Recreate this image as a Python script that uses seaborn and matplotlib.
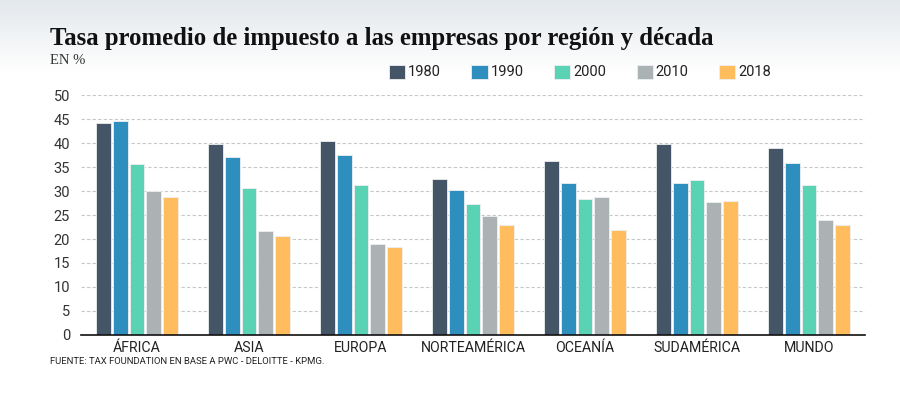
import numpy as np
import pandas as pd
import matplotlib
matplotlib.use('Agg')
import matplotlib.pyplot as plt
import seaborn as sns

# Data
regions = ['ÁFRICA', 'ASIA', 'EUROPA', 'NORTEAMÉRICA', 'OCEANÍA', 'SUDAMÉRICA', 'MUNDO']
years = ['1980', '1990', '2000', '2010', '2018']
rate_1980 = [44.2, 39.8, 40.4, 32.6, 36.2, 39.7, 38.9]
rate_1990 = [44.5, 37.1, 37.4, 30.3, 31.6, 31.6, 35.8]
rate_2000 = [35.6, 30.6, 31.3, 27.2, 28.3, 32.3, 31.3]
rate_2010 = [29.9, 21.7, 18.9, 24.7, 28.8, 27.8, 23.9]
rate_2018 = [28.8, 20.6, 18.3, 22.9, 21.9, 28.0, 22.9]
y_ticks = [0, 5, 10, 15, 20, 25, 30, 35, 40, 45, 50]

colors = ['#435566', '#2e8fbf', '#5ad3b5', '#abb2b4', '#ffbd5e']

series = [rate_1980, rate_1990, rate_2000, rate_2010, rate_2018]
df = pd.DataFrame({
    'region': regions * len(years),
    'year': [y for y in years for _ in regions],
    'value': [v for s in series for v in s],
})

sns.set_style('white')
plt.rcParams['font.family'] = ['Roboto', 'DejaVu Sans']

fig = plt.figure(figsize=(9, 3.98), dpi=100)

# Top gradient background
bg = fig.add_axes([0, 0, 1, 1], zorder=-10)
top_rgb = np.array([0xe3, 0xe8, 0xec]) / 255.0
img = np.ones((100, 1, 3))
for i in range(100):
    t = i / 99.0
    img[i, 0, :] = top_rgb * (1 - t) + np.ones(3) * t
bg.imshow(img, aspect='auto', extent=[0, 1, 1 - 72 / 398, 1])
bg.set_xlim(0, 1)
bg.set_ylim(0, 1)
bg.axis('off')

ax = fig.add_axes([81 / 900, 1 - 335 / 398, (865 - 81) / 900, (335 - 95) / 398])
ax.patch.set_alpha(0)

sns.barplot(data=df, x='region', y='value', hue='year', palette=colors,
            saturation=1, width=0.75, gap=0.12, edgecolor='#eef0f0', linewidth=0.6,
            ax=ax, legend=True)

ax.set_xlim(-0.5, len(regions) - 0.5)
ax.set_ylim(0, 50)
ax.set_yticks(y_ticks)
ax.yaxis.grid(True, color='#c8c8c8', linestyle=(0, (3, 2)), linewidth=0.8)
ax.set_axisbelow(True)
for side in ['top', 'right', 'left']:
    ax.spines[side].set_visible(False)
ax.spines['bottom'].set_color('#111111')
ax.spines['bottom'].set_linewidth(1.2)
ax.tick_params(axis='y', length=0, pad=8, labelsize=10.5, labelcolor='#333333')
ax.tick_params(axis='x', length=0, pad=4, labelsize=10.2, labelcolor='#222222')
ax.set_xlabel('')
ax.set_ylabel('')

handles, labels = ax.get_legend_handles_labels()
leg = ax.legend(handles, labels, ncol=5, loc='center left', frameon=False,
                bbox_to_anchor=(389 / 900, 1 - 72 / 398), bbox_transform=fig.transFigure,
                handlelength=1.1, handleheight=1.1, handletextpad=0.2,
                columnspacing=2.1, fontsize=10.5, borderaxespad=0, borderpad=0)
for t in leg.get_texts():
    t.set_color('#222222')

fig.text(50 / 900, 1 - 38 / 398, 'Tasa promedio de impuesto a las empresas por región y década',
         family=['Liberation Serif', 'DejaVu Serif'], fontweight='bold', fontsize=17.8,
         color='#111111', va='center', ha='left')
fig.text(50 / 900, 1 - 60 / 398, 'EN %', family=['Liberation Serif', 'DejaVu Serif'],
         fontsize=10.5, color='#333333', va='center', ha='left')
fig.text(50 / 900, 1 - 362 / 398, 'FUENTE: TAX FOUNDATION EN BASE A PWC - DELOITTE - KPMG.',
         fontsize=6.8, color='#222222', va='center', ha='left')

fig.savefig('out.png', dpi=100)
